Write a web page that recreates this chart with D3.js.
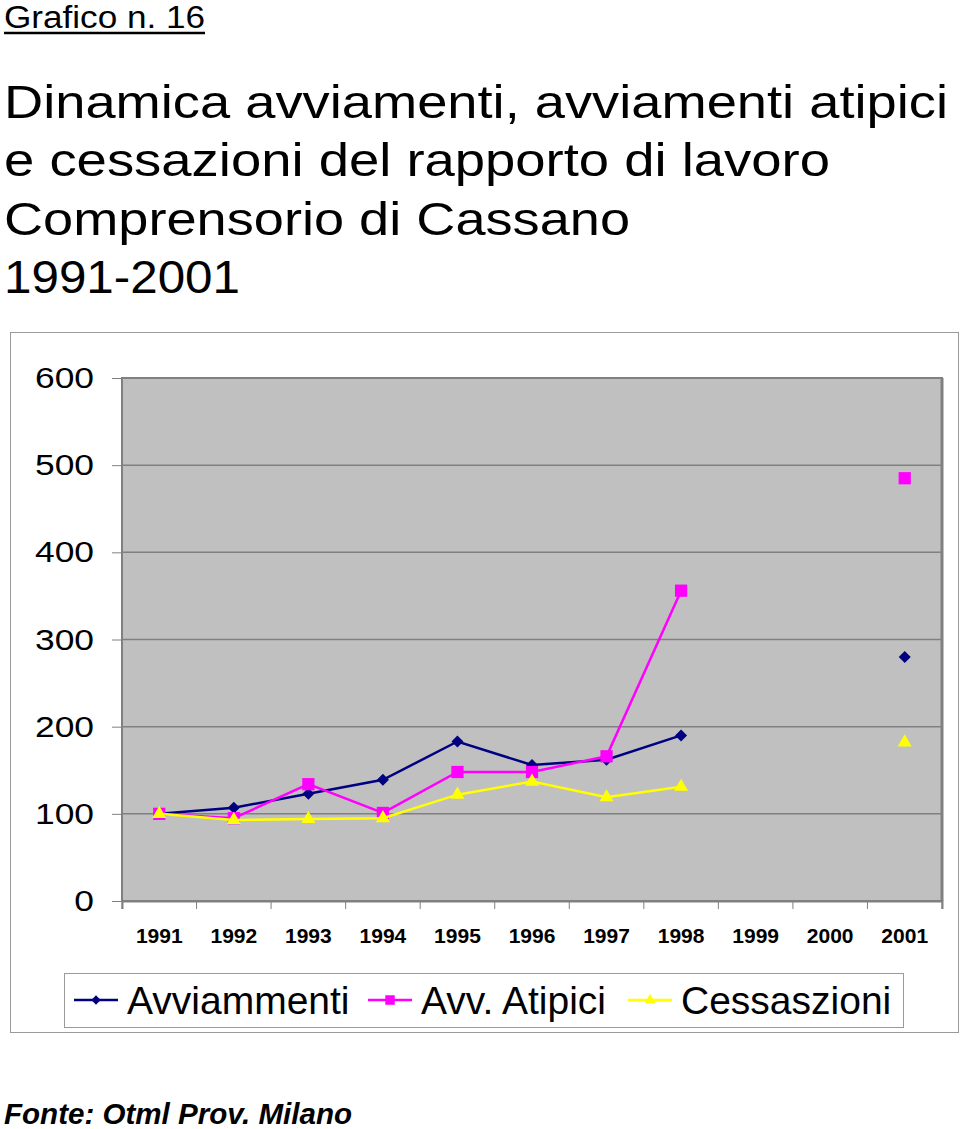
<!DOCTYPE html>
<html><head><meta charset="utf-8">
<script src="https://cdn.jsdelivr.net/npm/d3@7"></script>
<style>body{margin:0;background:#fff}svg{display:block;font-family:"Liberation Sans",Arial,sans-serif}</style>
</head><body><svg id="c" width="960" height="1129"></svg>
<script>
const years = ["1991","1992","1993","1994","1995","1996","1997","1998","1999","2000","2001"];
const avviamenti = [100,107,123,139,183,156,162,190,null,null,280];
const atipici = [100,95,134,101,148,148,166,356,null,null,485];
const cessazioni = [100,93,94,95,122,137,119,131,null,null,182];
const yTicks = [0,100,200,300,400,500,600];
const titleLines = ["Dinamica avviamenti, avviamenti atipici","e cessazioni del rapporto di lavoro","Comprensorio di Cassano","1991-2001"];

const diamond = {draw(ctx,size){const r=Math.sqrt(size)/2*Math.SQRT2;ctx.moveTo(0,-r);ctx.lineTo(r,0);ctx.lineTo(0,r);ctx.lineTo(-r,0);ctx.closePath();}};
const series = [
  {name:"Avviammenti", values:avviamenti, color:"#000080", sym:diamond, size:72},
  {name:"Avv. Atipici", values:atipici, color:"#ff00ff", sym:d3.symbolSquare, size:150},
  {name:"Cessaszioni", values:cessazioni, color:"#ffff00", sym:d3.symbolTriangle, size:85}
];

const svg = d3.select("#c");
function fitText(sel, w){ sel.attr("textLength", w).attr("lengthAdjust","spacingAndGlyphs"); return sel; }

fitText(svg.append("text").attr("x",4).attr("y",28).attr("font-size",31).text("Grafico n. 16"), 201);
svg.append("line").attr("x1",4).attr("x2",205).attr("y1",33).attr("y2",33).attr("stroke","#000").attr("stroke-width",2.5);
const titleW = [944,826,626,236];
titleLines.forEach((t,i)=>fitText(svg.append("text").attr("x",4).attr("y",118+i*58.3).attr("font-size",46).text(t), titleW[i]));

// outer chart frame
svg.append("rect").attr("x",10.5).attr("y",332.5).attr("width",948).attr("height",700).attr("fill","#fff").attr("stroke","#9a9a9a").attr("stroke-width",1);

const x = d3.scaleBand().domain(years).range([122,942]);
const y = d3.scaleLinear().domain([0,600]).range([901,378]);

svg.append("rect").attr("x",122).attr("y",378).attr("width",820).attr("height",523).attr("fill","#c0c0c0").attr("stroke","#808080").attr("stroke-width",2);

const gy = svg.append("g").attr("transform","translate(122,0)")
  .call(d3.axisLeft(y).tickValues(yTicks).tickSize(10).tickPadding(0));
gy.select(".domain").remove();
gy.selectAll("line").attr("stroke","#808080");
gy.selectAll("text").attr("font-size",30).attr("fill","#000").attr("font-family","Liberation Sans, Arial, sans-serif")
  .attr("x",0).attr("transform","translate(-28,0) scale(1.18,1)");
svg.append("g").selectAll("line").data(yTicks.filter(v=>v>0&&v<600)).join("line")
  .attr("x1",122).attr("x2",942).attr("y1",d=>y(d)).attr("y2",d=>y(d)).attr("stroke","#808080").attr("stroke-width",1.5);
svg.append("line").attr("x1",122).attr("x2",122).attr("y1",378).attr("y2",901).attr("stroke","#808080").attr("stroke-width",2);
svg.append("line").attr("x1",942).attr("x2",942).attr("y1",378).attr("y2",901).attr("stroke","#808080").attr("stroke-width",3);

const gx = svg.append("g").attr("transform","translate(0,901)")
  .call(d3.axisBottom(x).tickSize(8).tickPadding(19));
gx.select(".domain").attr("stroke","#808080").attr("stroke-width",2);
gx.selectAll(".tick line").attr("stroke","#808080").attr("transform",`translate(${-x.bandwidth()/2},0)`);
gx.append("line").attr("x1",942).attr("x2",942).attr("y1",0).attr("y2",8).attr("stroke","#808080");
gx.selectAll("text").attr("font-size",21).attr("font-weight","bold").attr("fill","#000").attr("font-family","Liberation Sans, Arial, sans-serif");

const cx = d=>x(d.year)+x.bandwidth()/2;
series.forEach(s=>{
  const pts = years.map((yr,i)=>({year:yr,v:s.values[i]}));
  const line = d3.line().defined(d=>d.v!==null).x(cx).y(d=>y(d.v));
  svg.append("path").datum(pts).attr("d",line).attr("fill","none").attr("stroke",s.color).attr("stroke-width",2.5);
  svg.append("g").selectAll("path").data(pts.filter(d=>d.v!==null)).join("path")
    .attr("transform",d=>`translate(${cx(d)},${y(d.v)})`)
    .attr("d",d3.symbol().type(s.sym).size(s.size)).attr("fill",s.color);
});

// legend
svg.append("rect").attr("x",64.5).attr("y",973.5).attr("width",839).attr("height",54).attr("fill","#fff").attr("stroke","#9a9a9a");
const legX = [74,368,628];
series.forEach((s,i)=>{
  const g = svg.append("g").attr("transform",`translate(${legX[i]},1000)`);
  g.append("line").attr("x1",0).attr("x2",44).attr("stroke",s.color).attr("stroke-width",2.5);
  g.append("path").attr("transform","translate(22,0)").attr("d",d3.symbol().type(s.sym).size(s.size*0.6)).attr("fill",s.color);
  g.append("text").attr("x",53).attr("y",14).attr("font-size",39).text(s.name);
});

fitText(svg.append("text").attr("x",4).attr("y",1124).attr("font-size",29).attr("font-weight","bold").attr("font-style","italic").text("Fonte: Otml Prov. Milano"), 348);
</script></body></html>
